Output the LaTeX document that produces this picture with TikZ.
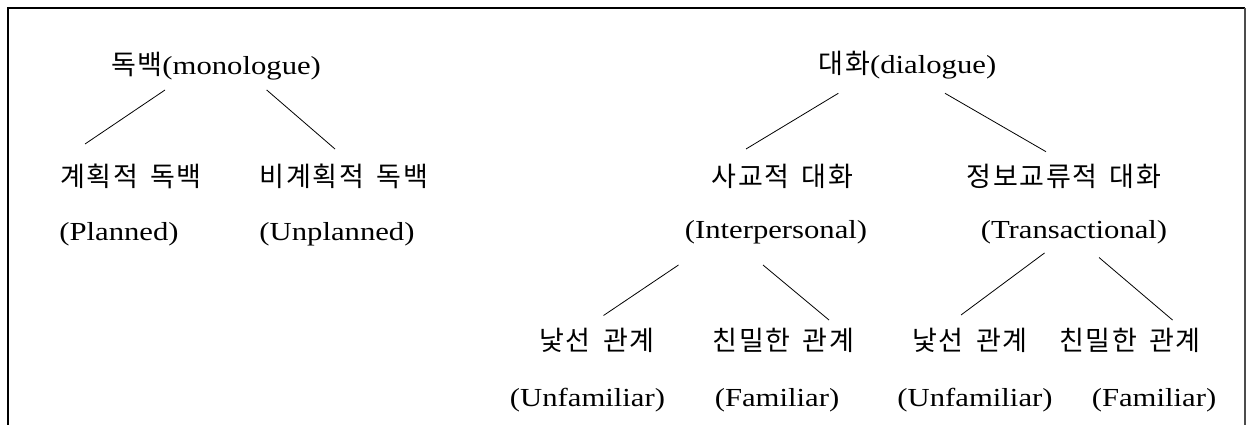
\documentclass[tikz,border=0pt]{standalone}
\usepackage{fontspec}
\setmainfont[FakeStretch=1.18]{Liberation Serif}
\newfontfamily\kr[Scale=1.04,WordSpace=1.6,LetterSpace=6]{Noto Sans CJK KR}
\usetikzlibrary{calc}
\tikzset{
  lbl/.style={inner sep=0pt, text height=18pt, text depth=5pt, font=\fontsize{26}{30}\selectfont},
  kor/.style={lbl, font=\fontsize{26}{30}\selectfont\kr},
  link/.style={line width=0.8pt, black},
  frame/.style={line width=1.2pt, black}
}
\begin{document}
\begin{tikzpicture}[x=1pt,y=-1pt]
\useasboundingbox (0,0) rectangle (1246,425);
\draw[frame] (8,425) -- (8,8) -- (1245,8);
\draw[line width=1.5pt, black!70] (1245,8) -- (1245,425);

% left tree
\node[lbl] (mono) at (216,68) {{\kr 독백}(monologue)};
\node[kor] (plan) at (131,179.5) {계획적 독백};
\node[kor] (unplan) at (344,179.5) {비계획적 독백};
\node[lbl] (planE) at (119,233.5) {(Planned)};
\node[lbl] (unplanE) at (337,233.5) {(Unplanned)};

% right tree
\node[lbl] (dia) at (907.5,67) {{\kr 대화}(dialogue)};
\node[kor] (soc) at (782.5,179.5) {사교적 대화};
\node[kor] (info) at (1064,179.5) {정보교류적 대화};
\node[lbl] (socE) at (776,232) {(Interpersonal)};
\node[lbl] (infoE) at (1074,232) {(Transactional)};

\node[kor] (st1) at (597,344) {낯선 관계};
\node[kor] (fa1) at (783.5,344) {친밀한 관계};
\node[kor] (st2) at (970,344) {낯선 관계};
\node[kor] (fa2) at (1130,344) {친밀한 관계};
\node[lbl] (uf1) at (587.5,400) {(Unfamiliar)};
\node[lbl] (ff1) at (777,400) {(Familiar)};
\node[lbl] (uf2) at (975,400) {(Unfamiliar)};
\node[lbl] (ff2) at (1154,400) {(Familiar)};

% connectors
\draw[link] ($(mono)+(-51,22)$) -- ($(plan)+(-46,-35.5)$);
\draw[link] ($(mono)+(50.7,22)$) -- ($(unplan)+(-9,-30.5)$);
\draw[link] ($(dia)+(-69.2,26.3)$) -- ($(soc)+(-36.5,-30.5)$);
\draw[link] ($(dia)+(37.5,26.3)$) -- ($(info)+(-18,-27.8)$);
\draw[link] ($(socE)+(-97.5,33)$) -- ($(st1)+(6.5,-28.5)$);
\draw[link] ($(socE)+(-13,33)$) -- ($(fa1)+(45.5,-24)$);
\draw[link] ($(infoE)+(-29.5,21)$) -- ($(st2)+(-9,-29)$);
\draw[link] ($(infoE)+(25,25.5)$) -- ($(fa2)+(42.5,-24)$);
\end{tikzpicture}
\end{document}
